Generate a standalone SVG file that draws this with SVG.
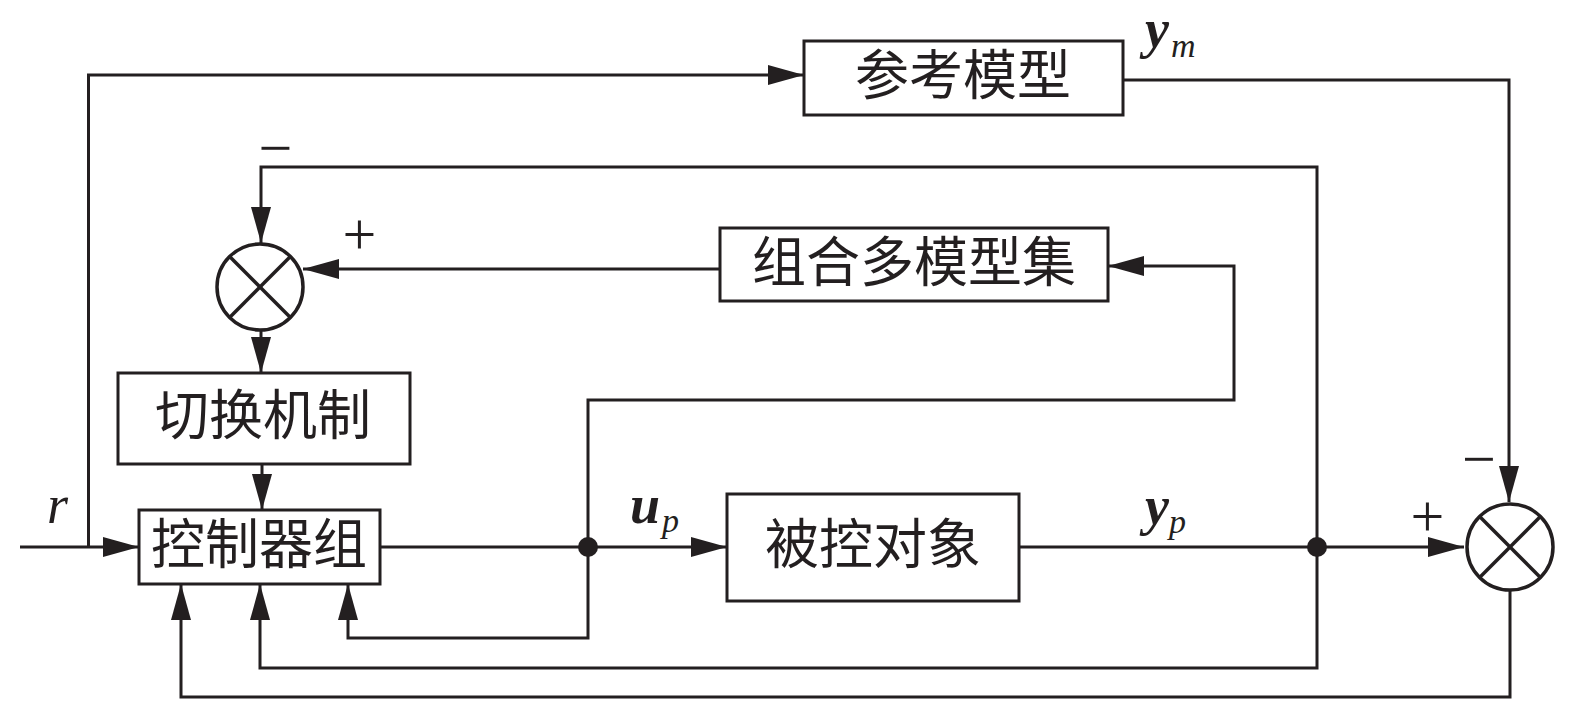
<svg xmlns="http://www.w3.org/2000/svg" width="1575" height="701" viewBox="0 0 1575 701">
<defs>
<marker id="arr" markerUnits="userSpaceOnUse" markerWidth="36" markerHeight="20" refX="36" refY="10" orient="auto" viewBox="0 0 36 20">
<path d="M0,0 L36,10 L0,20 z" fill="#231f20"/>
</marker>
</defs>
<style>
.box{fill:#fff;stroke:#231f20;stroke-width:3}
.cn{font-family:"Noto Sans CJK SC","Noto Sans CJK JP",sans-serif;font-size:54px;fill:#231f20;text-anchor:middle}
.ln{fill:none;stroke:#231f20;stroke-width:3}
.lna{fill:none;stroke:#231f20;stroke-width:3;marker-end:url(#arr)}
.sum{fill:#fff;stroke:#231f20;stroke-width:3.5}
.sx{stroke:#231f20;stroke-width:3.5}
.mb{font-family:"Liberation Serif",serif;font-style:italic;font-weight:bold;font-size:54px;fill:#231f20}
.mi{font-family:"Liberation Serif",serif;font-style:italic;font-size:34px;fill:#231f20}
.sg{font-family:"Liberation Serif",serif;font-size:60px;fill:#231f20;text-anchor:middle}
</style>
<rect width="1575" height="701" fill="#fff"/>
<g id="connectors">
<path class="lna" d="M20,547 H139"/>
<path class="lna" d="M88.5,547 V75 H804"/>
<path class="lna" d="M1123,80 H1509 V502"/>
<path class="lna" d="M380,547 H727"/>
<path class="lna" d="M1019,547 H1464"/>
<path class="lna" d="M1510,590 V697 H181 V584"/>
<path class="lna" d="M1317,547 V167 H261 V243"/>
<path class="lna" d="M1317,547 V668 H260 V584"/>
<path class="lna" d="M588,547 V400 H1234 V266 H1108"/>
<path class="lna" d="M588,547 V638 H348 V584"/>
<path class="lna" d="M720,269 H303"/>
<path class="lna" d="M261,331 V373"/>
<path class="lna" d="M262,464 V510"/>
<circle cx="588" cy="547" r="10" fill="#231f20"/>
<circle cx="1317" cy="547" r="10" fill="#231f20"/>
</g>
<g id="ref-model">
<rect class="box" x="804" y="41" width="319" height="74"/>
<text class="cn" x="963" y="95">参考模型</text>
</g>
<g id="model-set">
<rect class="box" x="720" y="228" width="388" height="73"/>
<text class="cn" x="914" y="282">组合多模型集</text>
</g>
<g id="switch">
<rect class="box" x="118" y="373" width="292" height="91"/>
<text class="cn" x="263" y="435">切换机制</text>
</g>
<g id="controller">
<rect class="box" x="139" y="510" width="241" height="74"/>
<text class="cn" x="259" y="564">控制器组</text>
</g>
<g id="plant">
<rect class="box" x="727" y="494" width="292" height="107"/>
<text class="cn" x="873" y="564">被控对象</text>
</g>
<g id="sum1">
<circle class="sum" cx="260" cy="287" r="43"/>
<line class="sx" x1="229.6" y1="256.6" x2="290.4" y2="317.4"/>
<line class="sx" x1="290.4" y1="256.6" x2="229.6" y2="317.4"/>
<text class="sg" x="275.5" y="168">−</text>
<text class="sg" x="359.5" y="254">+</text>
</g>
<g id="sum2">
<circle class="sum" cx="1510" cy="547" r="43"/>
<line class="sx" x1="1479.6" y1="516.6" x2="1540.4" y2="577.4"/>
<line class="sx" x1="1540.4" y1="516.6" x2="1479.6" y2="577.4"/>
<text class="sg" x="1479" y="479">−</text>
<text class="sg" x="1427.5" y="536">+</text>
</g>
<g id="labels">
<text x="1145" y="47"><tspan class="mb">y</tspan><tspan class="mi" dx="2" dy="10">m</tspan></text>
<text x="1145" y="524"><tspan class="mb">y</tspan><tspan class="mi" dx="0" dy="9">p</tspan></text>
<text x="630" y="523"><tspan class="mb">u</tspan><tspan class="mi" dx="2" dy="9">p</tspan></text>
<text x="47" y="523" style="font-family:'Liberation Serif',serif;font-style:italic;font-size:54px;fill:#231f20">r</text>
</g>
</svg>
